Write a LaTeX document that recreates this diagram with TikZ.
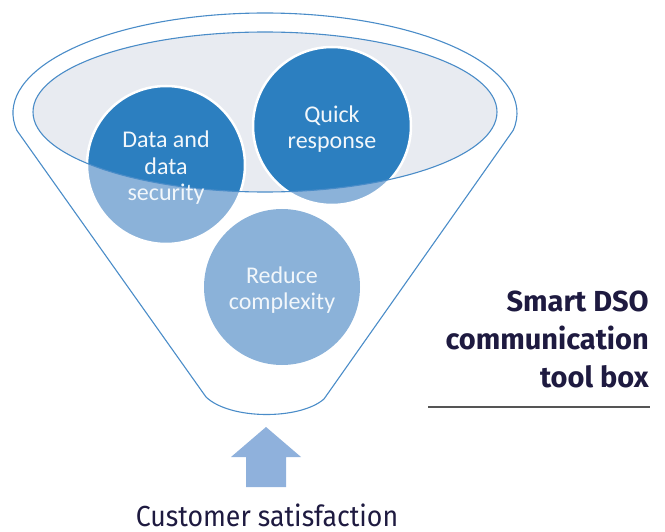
\documentclass[tikz,border=0pt]{standalone}
\usepackage{fontspec}
\newfontfamily\bubblefont{Carlito}
\newfontfamily\titlefont{Fira Sans}
\newfontfamily\captionfont[FakeStretch=0.92]{Fira Sans}
\usetikzlibrary{calc}
\definecolor{funnelline}{HTML}{4A8CC8}
\definecolor{rimfill}{HTML}{E8EBF1}
\definecolor{deepblue}{HTML}{2C7FC0}
\definecolor{paleblue}{HTML}{8BB2D9}
\definecolor{arrowblue}{HTML}{8FB1DC}
\definecolor{navy}{HTML}{1E1A40}
\definecolor{rulegray}{HTML}{555555}
\tikzset{
  bubble/.style={circle, minimum size=158pt, inner sep=0pt, align=center,
    text=white!94!deepblue, font=\bubblefont\fontsize{24}{26.5}\selectfont},
  ring/.style={draw=white, line width=2.5pt},
  outline/.style={draw=funnelline, line width=1.1pt},
}
\begin{document}
\begin{tikzpicture}[x=1pt,y=-1pt]
\useasboundingbox (0,0) rectangle (665,532);

% funnel body: upper half of the rim ellipse, sloping sides, rounded bottom
\draw[outline, line join=round]
  (265,113) ++(170:252 and 100) arc[start angle=170, end angle=370, x radius=252, y radius=100]
  -- (324,399) .. controls (300,420) and (230,420) .. (206,397) -- cycle;

% inner rim
\fill[rimfill] (265,112) ellipse [x radius=232, y radius=80];

% bubbles: pale everywhere, deep blue inside the rim
\fill[paleblue] (166,165) circle (79) (332,126) circle (79) (282,287) circle (78);
\begin{scope}
  \clip (265,112) ellipse [x radius=232, y radius=80];
  \fill[deepblue] (166,165) circle (79) (332,126) circle (79) (282,287) circle (78);
\end{scope}
\draw[ring] (166,165) circle (79) (332,126) circle (79);

% rim outline over the bubbles
\draw[outline] (265,112) ellipse [x radius=232, y radius=80];

\node[bubble] (data) at (166,168) {Data and\\data\\security};
\node[bubble] (quick) at (332,129) {Quick\\response};
\node[bubble] (reduce) at (282,290) {Reduce\\complexity};

% upward block arrow
\fill[arrowblue] (246,487) -- (246,457) -- (231,457) -- (266,427) -- (301,457)
  -- (286,457) -- (286,487) -- cycle;

\node[anchor=base, inner sep=0pt, text=navy, font=\captionfont\fontsize{29}{30}\selectfont]
  (customer) at (267,526) {Customer satisfaction};

% title block
\node[anchor=base east, align=right, inner sep=0pt, text=navy,
  font=\titlefont\bfseries\fontsize{29}{38.5}\selectfont]
  (title) at (649,388) {Smart DSO\\communication\\tool box};
\coordinate (ruleL) at (428,407);
\coordinate (ruleR) at (650,407);
\draw[rulegray, line width=1.5pt] (ruleL) -- (ruleR);
\end{tikzpicture}
\end{document}
